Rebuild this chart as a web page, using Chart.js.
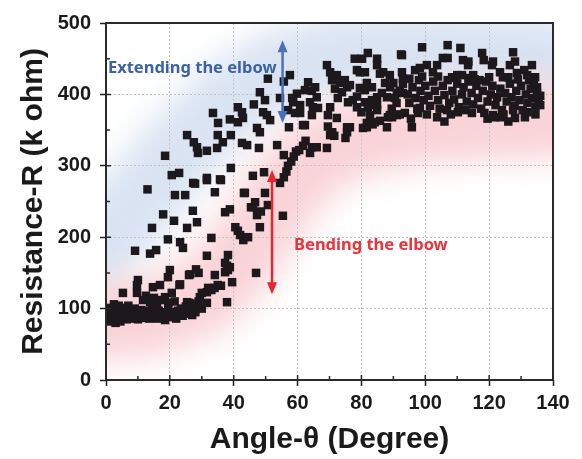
<!DOCTYPE html>
<html>
<head>
<meta charset="utf-8">
<script src="https://cdn.jsdelivr.net/npm/chart.js@4/dist/chart.umd.min.js"></script>
<style>
  html, body { margin: 0; padding: 0; background: #fff; }
</style>
</head>
<body>
<canvas id="chart" width="582" height="459"></canvas>
<script>
// angle (degree), resistance (k ohm)
const lowCluster = [
  [1.5,82],[1.5,92],[1.5,101],[2,88],[2.5,96],[2.5,106],[3,80],[3,90],[3.5,99],[3.5,86],
  [4,94],[4,104],[4.5,82],[4.5,91],[5,98],[5,87],[5.5,95],[6,90],[6,101],[6.5,85],
  [7,94],[7,104],[7.5,89],[8,97],[8,86],[8.5,93],[9,100],[9.5,88],[10,95],[10,85],
  [10.5,91],[11,98],[11.5,87],[12,94],[12.5,90],[13,97],[13.5,86],[14,92],[14.5,99],[15,89],
  [15.5,94],[16,86],[16.5,97],[17,91],[17.5,88],[18,95],[18.5,84],[19,92],[19.5,99],[20,88],
  [20.5,95],[21,91],[22,86],[22.5,97],[23,93],[23.5,100],[24,90],[24.5,96],[25,103],[25.5,93],
  [26,99],[26.5,107],[27,91],[27.5,101],[28,95],[28.5,104],[29,110],[30,100]
];

const lowerBranch = [
  [5.3,122],[9.7,122],[10,140],[9.7,133],[11.6,112],[13.8,109],[16,105],[14.7,130],[16.9,133],[18.5,116],
  [20.6,122],[12.5,118],[15,115],[17.5,112],[19.5,108],[21.5,110],[23.2,134],[25.4,109],[26,108],[28.5,102],
  [29.4,116],[30,122],[31.6,123],[31.6,108],[32,129],[33,126],[34,129],[34.1,147],[35,133],[36,132],
  [37.3,164],[37.9,109],[38.2,154],[38.2,175],[38.8,158],[39.5,137],[37.3,151],[37.9,160],[31.6,174],[29,150],
  [26,147],[28.2,155],[23,133],[20,154],[19.4,144],[26.3,148],[33,199],[40.5,214],[41.3,209],[42,203],
  [43,196],[44.5,200],[48.2,214],[47,150],[37.3,235],[38.8,239],[43.5,262],[46.7,249],[46,242],[45.4,242],
  [47.3,231],[48.5,236],[50.7,245],[49.8,262],[55.4,230],[46,286],[49.5,291],[54.5,276],[55.7,284],[56.5,292],
  [57,300],[58,306],[58.8,313],[59.5,320],[55.7,315],[53.6,329],[61.7,328],[64.5,326],[66,326],[63.9,318],
  [69.2,325],[60.5,322],[62.5,335],[62.3,357],[70.8,346],[71.5,342],[69.5,355],[76.4,354],[75.5,347],[75,339],
  [81.7,354],[83.5,358],[85.8,363],[88.3,368],[88,354],[89.6,368],[95.8,354],[97.7,374],[103.7,368],[106.8,378],
  [110.2,375],[114.6,374],[121.2,371],[121.8,368],[123.4,368],[128.1,367],[131.2,368],[93.6,374],[98.3,381],[92,372]
];

const upperBranch = [
  [9.1,181],[13.8,177],[15.7,182],[13,267],[17.9,232],[19.4,197],[21.3,223],[14.4,213],[21.6,259],[24.8,259],
  [20.6,287],[22.9,290],[27.3,276],[25.4,213],[23.2,193],[24.1,185],[27.2,237],[28.5,221],[18.5,314],[25.4,343],
  [27.5,333],[28.5,326],[28.8,318],[31.6,321],[31.6,280],[36,280],[34.1,263],[33.5,374],[35.1,360],[35,343],
  [36.6,333],[34.8,325],[38.8,365],[39.1,343],[41.3,382],[42.6,375],[42.9,367],[41.3,361],[42.6,332],[44.2,329],
  [46.3,386],[48.2,403],[47.3,353],[48.2,347],[47.9,325],[49.2,375],[50.4,371],[51.4,364],[49.8,392],[50.7,422],
  [55.7,418],[57.6,427],[54.5,395],[58.3,395],[57.3,354],[39.1,297],[43.2,262],[31.6,283],[35.7,281],[27.9,275],
  [59.8,401],[58.6,389],[60.8,385],[57,378],[59.2,374],[60.8,374],[63.3,417],[62.3,406],[64.5,405],[65.5,410],
  [66,396],[63.9,389],[64.8,382],[66.4,381],[64.5,371],[61.7,357]
];

const plateau = [
  [69.2,441],[70.2,431],[72.3,427],[70.8,420],[73.3,416],[74.8,420],[71.7,408],[73.9,403],[75.5,410],[76.4,413],
  [72.6,395],[75.8,389],[77.3,392],[78.6,397],[70.2,382],[69.5,371],[72.3,367],[70.8,347],[70.2,343],[75.5,354],
  [77.9,450],[80.2,450],[82,458],[84.9,450],[81.1,431],[79.5,431],[78.6,434],[81.7,416],[84.9,441],[79.5,409],
  [81.1,406],[83.3,410],[85.8,429],[86.8,431],[87.4,416],[88.9,427],[92.7,455],[92.7,431],[93,422],[86.4,402],
  [88,396],[84.9,396],[83.3,392],[78.6,382],[81.1,389],[82,382],[84.9,385],[90,416],[91.1,402],[93,402],
  [88.9,371],[91.1,371],[82.7,371],[84.9,378],[84.2,361],[81.7,360],[80.5,353],[82.5,385],[80,375],[89,410],
  [90.5,395],[91,388],[92,405],[89.5,380],
  [99,466],[107,469],[111,465],[117.8,458],[127.5,459],[92.4,456],[105.5,451],[107,451],[111.8,448],[113.4,441],
  [121.2,446],[120.9,441],[128.1,446],[126.5,441],[133.4,441],[103.7,441],[98.3,437],[96.8,434],[100.5,441],[102.4,431],
  [110,427],[115,427],[117,420],[123.4,431],[124.3,424],[128.7,430],[131.9,427],[133.7,420],[135,410],[108.4,424],
  [111.5,427],[114,423],[134.4,424],[118.3,448],[113.5,446],[131,434],
  [93,415],[94.5,400],[95,388],[96,410],[97,395],[98,420],[98.5,405],[99.5,392],[100,412],[101,398],
  [101.5,384],[102.5,418],[103,405],[104,392],[104.5,380],[105.5,412],[106,399],[107,420],[107.5,388],[108.5,405],
  [109,393],[110,415],[110.5,382],[111.5,400],[112,410],[113,390],[113.5,418],[114.5,402],[115,386],[116,412],
  [116.5,395],[117.5,380],[118,405],[119,418],[119.5,390],[120.5,400],[121,412],[122,385],[122.5,396],[123.5,408],
  [124,378],[125,402],[125.5,390],[126.5,415],[127,396],[128,384],[128.5,405],[129.5,392],[130,412],[130.5,378],
  [131.5,400],[132,388],[133,408],[133.5,395],[134.5,383],[135,402],[135.5,392],[136,398],[134,415],[132.5,420],
  [129,421],[126,424],[120,424],[115.5,421],[109.5,423],[104,425],[99,425],[95,422],[97.5,380],[100.5,372],
  [108,372],[112.5,378],[118.5,374],[124.5,372],[127.5,378],[132,375],[134.5,372],[136,385],[95.5,366],[106,362],
  [119.5,366],[126,362]
];

// soft glow bands behind the points (centre lines in data units)
const blueBand = [[-5,170],[10,250],[25,330],[40,395],[55,435],[75,455],[100,460],[125,455],[140,450]];
const pinkBand = [[-5,80],[15,90],[30,115],[42,170],[52,240],[62,300],[75,335],[95,355],[115,362],[140,365]];

// double arrows: x, top, bottom
const blueArrow = [55.3, 476, 360];
const redArrow = [52, 294, 120];

const notes = [
  { text: 'Extending the elbow', x: 0.6, y: 437, color: '#3c62a6' },
  { text: 'Bending the elbow', x: 58.9, y: 189, color: '#e8343a' }
];

const xTicks = [0, 20, 40, 60, 80, 100, 120, 140];
const yTicks = [0, 100, 200, 300, 400, 500];

const FONT = '"Liberation Sans", Arial, sans-serif';
const points = [...lowCluster, ...lowerBranch, ...upperBranch, ...plateau].map(([x, y]) => ({ x, y }));

const glowPlugin = {
  id: 'glow',
  beforeDraw(chart) {
    const { ctx, chartArea: a, scales: { x, y } } = chart;
    ctx.save();
    ctx.beginPath();
    ctx.rect(a.left, a.top, a.right - a.left, a.bottom - a.top);
    ctx.clip();
    const band = (pts, color, width) => {
      ctx.beginPath();
      pts.forEach(([px, py], i) => {
        const X = x.getPixelForValue(px), Y = y.getPixelForValue(py);
        i ? ctx.lineTo(X, Y) : ctx.moveTo(X, Y);
      });
      ctx.strokeStyle = color;
      ctx.lineWidth = width;
      ctx.lineJoin = 'round';
      ctx.lineCap = 'round';
      ctx.filter = 'blur(16px)';
      ctx.stroke();
    };
    band(blueBand, '#d9e3f2', 80);
    band(pinkBand, '#f9d3d7', 78);
    ctx.restore();
  }
};

const decorPlugin = {
  id: 'decor',
  afterDatasetsDraw(chart) {
    const { ctx, chartArea: a, scales: { x, y } } = chart;
    ctx.save();
    // frame
    ctx.strokeStyle = '#2a2a2a';
    ctx.lineWidth = 2;
    ctx.strokeRect(a.left, a.top, a.right - a.left, a.bottom - a.top);
    // inner ticks (major and minor)
    ctx.lineWidth = 1.5;
    ctx.beginPath();
    for (let v = 0; v <= 140; v += 10) {
      const X = x.getPixelForValue(v);
      ctx.moveTo(X, a.bottom);
      ctx.lineTo(X, a.bottom - (v % 20 ? 4 : 5));
    }
    for (let v = 0; v <= 500; v += 50) {
      const Y = y.getPixelForValue(v);
      ctx.moveTo(a.left, Y);
      ctx.lineTo(a.left + (v % 100 ? 4 : 5), Y);
    }
    ctx.stroke();

    // arrows
    const arrow = ([ax, top, bottom], color) => {
      const X = x.getPixelForValue(ax);
      const T = y.getPixelForValue(top), B = y.getPixelForValue(bottom);
      ctx.strokeStyle = color;
      ctx.fillStyle = color;
      ctx.lineWidth = 2.5;
      ctx.beginPath();
      ctx.moveTo(X, T + 8);
      ctx.lineTo(X, B - 8);
      ctx.stroke();
      ctx.beginPath();
      ctx.moveTo(X, T); ctx.lineTo(X - 5, T + 12); ctx.lineTo(X + 5, T + 12); ctx.closePath();
      ctx.moveTo(X, B); ctx.lineTo(X - 5, B - 12); ctx.lineTo(X + 5, B - 12); ctx.closePath();
      ctx.fill();
    };
    arrow(blueArrow, '#4a70bd');
    arrow(redArrow, '#e8262c');

    ctx.font = 'bold 16.5px "Noto Sans", sans-serif';
    ctx.textBaseline = 'middle';
    ctx.textAlign = 'left';
    notes.forEach(n => {
      ctx.fillStyle = n.color;
      ctx.fillText(n.text, x.getPixelForValue(n.x), y.getPixelForValue(n.y));
    });
    ctx.restore();
  }
};

new Chart(document.getElementById('chart'), {
  type: 'scatter',
  data: {
    datasets: [{
      data: points,
      pointStyle: 'rect',
      pointRadius: 6,
      borderWidth: 0,
      backgroundColor: '#1d181b'
    }]
  },
  options: {
    responsive: false,
    animation: false,
    layout: { padding: { top: 23, right: 29, left: 0, bottom: 0 } },
    plugins: { legend: { display: false }, tooltip: { enabled: false } },
    scales: {
      x: {
        type: 'linear', min: 0, max: 140,
        afterBuildTicks: s => { s.ticks = xTicks.map(v => ({ value: v })); },
        afterFit: s => { s.height = 79; },
        ticks: { color: '#1a1a1a', padding: 5, font: { family: FONT, size: 20, weight: 'bold' }, maxRotation: 0 },
        grid: { color: '#c2c2c2', lineWidth: 1, borderDash: [2, 2], tickColor: '#222', tickLength: 6, tickWidth: 1.5, tickBorderDash: [] },
        border: { display: false, dash: [2, 2] },
        title: { display: true, text: 'Angle-θ (Degree)', color: '#1a1a1a', font: { family: FONT, size: 30, weight: 'bold' }, padding: { top: 0, bottom: 1 } }
      },
      y: {
        type: 'linear', min: 0, max: 500,
        afterBuildTicks: s => { s.ticks = yTicks.map(v => ({ value: v })); },
        afterFit: s => { s.width = 106; },
        ticks: { color: '#1a1a1a', padding: 9, font: { family: FONT, size: 20, weight: 'bold' } },
        grid: { color: '#c2c2c2', lineWidth: 1, borderDash: [2, 2], tickColor: '#222', tickLength: 6, tickWidth: 1.5, tickBorderDash: [] },
        border: { display: false, dash: [2, 2] },
        title: { display: true, text: 'Resistance-R (k ohm)', color: '#1a1a1a', font: { family: FONT, size: 30, weight: 'bold' }, padding: { top: 16, bottom: 0 } }
      }
    }
  },
  plugins: [glowPlugin, decorPlugin]
});
</script>
</body>
</html>
